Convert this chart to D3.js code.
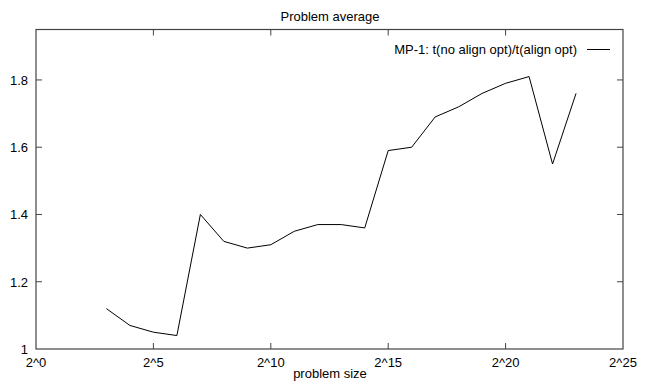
<!DOCTYPE html>
<html>
<head>
<meta charset="utf-8">
<script src="https://cdn.jsdelivr.net/npm/d3@7"></script>
<style>
  body { margin: 0; background: #fff; }
  text { font-family: "Liberation Sans", Arial, sans-serif; font-size: 13px; fill: #000; }
</style>
</head>
<body>
<div id="chart"></div>
<script>
// problem size exponents (2^n) and measured speed-up ratio
let exps = [3, 4, 5, 6, 7, 8, 9, 10, 11, 12, 13, 14, 15, 16, 17, 18, 19, 20, 21, 22, 23];
let ratio = [1.12, 1.07, 1.05, 1.04, 1.40, 1.32, 1.30, 1.31, 1.35, 1.37, 1.37, 1.36,
             1.59, 1.60, 1.69, 1.72, 1.76, 1.79, 1.81, 1.55, 1.76];
let xTicks = [0, 5, 10, 15, 20, 25];
let yTicks = [1, 1.2, 1.4, 1.6, 1.8];
let seriesName = "MP-1: t(no align opt)/t(align opt)";

let width = 654, height = 381;
let plotLeft = 36, plotRight = 623, plotTop = 29.5, plotBottom = 349;

let svg = d3.select("#chart").append("svg")
    .attr("width", width)
    .attr("height", height);

let x = d3.scaleLinear().domain([0, 25]).range([plotLeft, plotRight]);
let y = d3.scaleLinear().domain([1, 1.95]).range([plotBottom, plotTop]);

// ticks (gnuplot style: inward, mirrored)
let tickLen = 6;
let axisColor = "#444";

svg.append("g").selectAll("line")
    .data(xTicks.slice(1, -1))
    .join("line")
    .attr("x1", d => x(d)).attr("x2", d => x(d))
    .attr("y1", plotBottom).attr("y2", plotBottom - tickLen)
    .attr("stroke", axisColor);
svg.append("g").selectAll("line")
    .data(xTicks.slice(1, -1))
    .join("line")
    .attr("x1", d => x(d)).attr("x2", d => x(d))
    .attr("y1", plotTop).attr("y2", plotTop + tickLen)
    .attr("stroke", axisColor);
svg.append("g").selectAll("line")
    .data(yTicks.slice(1))
    .join("line")
    .attr("x1", plotLeft).attr("x2", plotLeft + tickLen)
    .attr("y1", d => y(d)).attr("y2", d => y(d))
    .attr("stroke", axisColor);
svg.append("g").selectAll("line")
    .data(yTicks.slice(1))
    .join("line")
    .attr("x1", plotRight).attr("x2", plotRight - tickLen)
    .attr("y1", d => y(d)).attr("y2", d => y(d))
    .attr("stroke", axisColor);

// frame
svg.append("rect")
    .attr("x", plotLeft).attr("y", plotTop)
    .attr("width", plotRight - plotLeft).attr("height", plotBottom - plotTop)
    .attr("fill", "none")
    .attr("stroke", axisColor)
    .attr("stroke-width", 1.2);

// tick labels
svg.append("g").selectAll("text")
    .data(xTicks)
    .join("text")
    .attr("x", d => x(d))
    .attr("y", plotBottom + 18)
    .attr("text-anchor", "middle")
    .text(d => "2^" + d);

svg.append("g").selectAll("text")
    .data(yTicks)
    .join("text")
    .attr("x", plotLeft - 8)
    .attr("y", d => y(d) + 5)
    .attr("text-anchor", "end")
    .text(d => d === 1 ? "1" : d3.format(".1f")(d));

// titles
svg.append("text")
    .attr("x", 330)
    .attr("y", 21)
    .attr("text-anchor", "middle")
    .text("Problem average");

svg.append("text")
    .attr("x", 330)
    .attr("y", 378)
    .attr("text-anchor", "middle")
    .text("problem size");

// data line
let line = d3.line()
    .x((d, i) => x(exps[i]))
    .y(d => y(d));

svg.append("path")
    .datum(ratio)
    .attr("d", line)
    .attr("fill", "none")
    .attr("stroke", "#000")
    .attr("stroke-width", 1);

// legend
svg.append("text")
    .attr("x", 577)
    .attr("y", 54)
    .attr("text-anchor", "end")
    .text(seriesName);
svg.append("line")
    .attr("x1", 587).attr("x2", 610)
    .attr("y1", 49.5).attr("y2", 49.5)
    .attr("stroke", "#000");
</script>
</body>
</html>
